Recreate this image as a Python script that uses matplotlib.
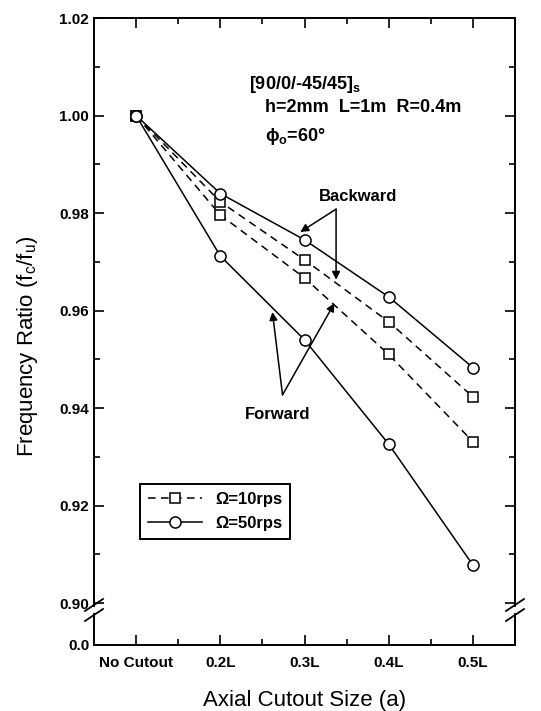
import numpy as np
import matplotlib
matplotlib.use("Agg")
import matplotlib.pyplot as plt
from matplotlib.lines import Line2D

plt.rcParams['font.family'] = ['Liberation Sans', 'DejaVu Sans']
plt.rcParams['mathtext.fontset'] = 'custom'
plt.rcParams['mathtext.rm'] = 'Liberation Sans'
plt.rcParams['mathtext.it'] = 'Liberation Sans:italic'
plt.rcParams['mathtext.bf'] = 'Liberation Sans:bold'

# data
cutouts = ['No Cutout', '0.2L', '0.3L', '0.4L', '0.5L']
w10_backward = [1.000, 0.9823, 0.9704, 0.9577, 0.9423]
w10_forward = [1.000, 0.9796, 0.9667, 0.9510, 0.9331]
w50_backward = [1.000, 0.9840, 0.9745, 0.9628, 0.9483]
w50_forward = [1.000, 0.9712, 0.9540, 0.9326, 0.9078]
yticks = [0.90, 0.92, 0.94, 0.96, 0.98, 1.00, 1.02]

x = np.arange(len(cutouts))

fig = plt.figure(figsize=(5.41, 7.11), dpi=100)
L, R = 94 / 541, 515 / 541
ax = fig.add_axes([L, 1 - 606 / 711, R - L, (606 - 18) / 711])
axb = fig.add_axes([L, 1 - 645 / 711, R - L, (645 - 614) / 711])

dash = dict(color='black', lw=1.1, ls=(0, (5, 3.5)), marker='s', ms=7,
            mfc='white', mec='black', mew=1.1)
solid = dict(color='black', lw=1.1, ls='-', marker='o', ms=8,
             mfc='white', mec='black', mew=1.1)
ax.plot(x, w10_backward, **dash, label='Ω=10rps')
ax.plot(x, w10_forward, **dash)
ax.plot(x, w50_backward, **solid, label='Ω=50rps')
ax.plot(x, w50_forward, **solid)

for a in (ax, axb):
    a.set_xlim(-0.5, 4.5)
    for s in a.spines.values():
        s.set_linewidth(1.4)
    a.set_xticks(x)
    a.set_xticks(np.arange(-0.5, 4.6, 0.5), minor=True)
    a.tick_params(which='both', direction='in', width=1.2)
    a.tick_params(which='major', length=7)
    a.tick_params(which='minor', length=4)

ax.set_ylim(0.8994, 1.02)
ax.spines['bottom'].set_visible(False)
ax.set_yticks(yticks)
ax.set_yticks(np.arange(0.91, 1.02, 0.02), minor=True)
ax.set_yticklabels(['%.2f' % v for v in yticks], fontsize=11, fontweight='bold')
ax.tick_params(which='both', top=True, right=True, bottom=False, labelbottom=False)

axb.set_ylim(0, 1)
axb.spines['top'].set_visible(False)
axb.set_yticks([0])
axb.set_yticklabels(['0.0'], fontsize=11, fontweight='bold')
axb.set_xticklabels(cutouts, fontsize=11, fontweight='bold')
axb.tick_params(which='both', top=False, right=True)
axb.tick_params(axis='x', pad=8)
axb.set_xlabel('Axial Cutout Size (a)', fontsize=16, labelpad=14)

fig.text(28 / 541, 1 - 346 / 711, r'Frequency Ratio (f$_\mathrm{c}$/f$_\mathrm{u}$)',
         fontsize=16, rotation=90, ha='center', va='center')

# break marks on both spines
for xc in (L, R):
    for dy in (-5, 5):
        yc = 1 - (610 + dy) / 711
        fig.add_artist(Line2D([xc - 9 / 541, xc + 9 / 541], [yc - 6 / 711, yc + 6 / 711],
                              transform=fig.transFigure, color='black', lw=1.3))

ax.text(1.346, 1.0063, r'[90/0/-45/45]$_\mathbf{s}$', fontsize=13, fontweight='bold',
        va='center')
ax.text(1.534, 1.0017, 'h=2mm  L=1m  R=0.4m', fontsize=13, fontweight='bold', va='center')
ax.text(1.534, 0.9956, r'$\mathbf{\phi}_\mathbf{o}$=60°', fontsize=13, fontweight='bold',
        va='center')

ax.text(2.642, 0.9833, 'Backward', fontsize=12, fontweight='bold', ha='center', va='center')
ax.text(1.678, 0.9386, 'Forward', fontsize=12, fontweight='bold', ha='center', va='center')
arr = dict(arrowstyle='-|>', color='black', lw=1.1, mutation_scale=12, shrinkA=0, shrinkB=0)
ax.annotate('', xy=(1.950, 0.9761), xytext=(2.375, 0.9808), arrowprops=arr)
ax.annotate('', xy=(2.375, 0.9663), xytext=(2.375, 0.9808), arrowprops=arr)
ax.annotate('', xy=(1.619, 0.9597), xytext=(1.739, 0.9427), arrowprops=arr)
ax.annotate('', xy=(2.355, 0.9615), xytext=(1.739, 0.9427), arrowprops=arr)

leg = ax.legend(loc='lower left', bbox_to_anchor=(0.109, 0.114), borderaxespad=0,
                handlelength=3.2, numpoints=1, fancybox=False, borderpad=0.5,
                framealpha=1, edgecolor='black', prop={'weight': 'bold', 'size': 12})
leg.get_frame().set_linewidth(1.4)

fig.savefig('out.png', dpi=100)
